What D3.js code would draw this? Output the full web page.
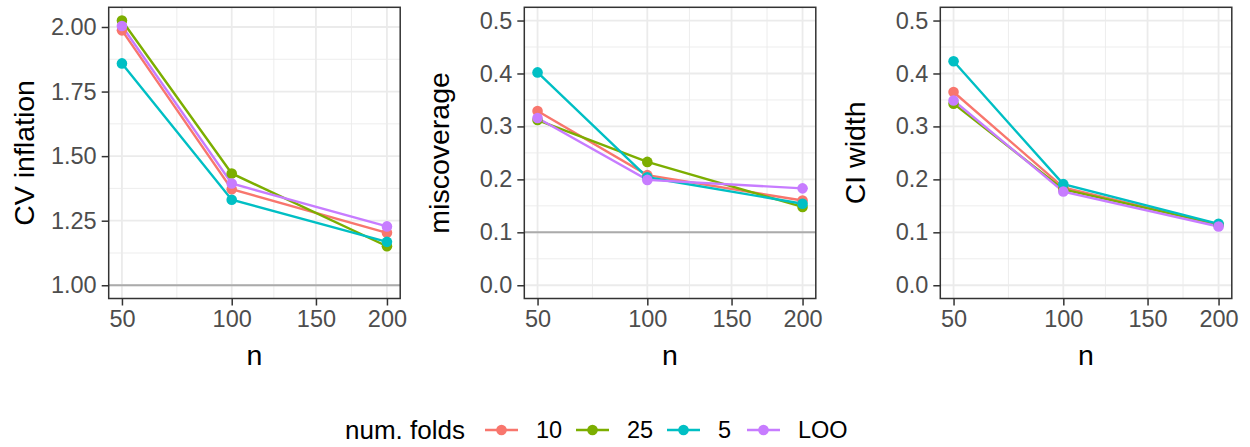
<!DOCTYPE html>
<html><head><meta charset="utf-8">
<script src="https://cdn.jsdelivr.net/npm/d3@7"></script>
<style>body{margin:0;background:#fff}svg{display:block;font-family:"Liberation Sans",Arial,sans-serif}</style>
</head><body><svg id="c" width="1250" height="447"></svg>
<script>
const nValues = [50, 100, 200];
const xTicks = [50, 100, 150, 200];
const folds = ["10", "25", "5", "LOO"];
const colors = ["#F8766D", "#7CAE00", "#00BFC4", "#C77CFF"];
const metrics = ["CV inflation", "miscoverage", "CI width"];
// values per fold, in order of nValues
const cvInflation = {"10": [1.987, 1.372, 1.203], "25": [2.025, 1.433, 1.151], "5": [1.859, 1.331, 1.168], "LOO": [2.004, 1.394, 1.228]};
const miscoverage = {"10": [0.329, 0.208, 0.160], "25": [0.312, 0.233, 0.148], "5": [0.402, 0.204, 0.154], "LOO": [0.316, 0.199, 0.183]};
const ciWidth = {"10": [0.365, 0.185, 0.114], "25": [0.343, 0.181, 0.115], "5": [0.423, 0.191, 0.116], "LOO": [0.349, 0.177, 0.111]};
const refLines = [1.0, 0.1, null];
const yTicks1 = [1.00, 1.25, 1.50, 1.75, 2.00];
const yTicks23 = [0.0, 0.1, 0.2, 0.3, 0.4, 0.5];

const svg = d3.select("#c");
const panelLeft = [108.7, 524.3, 940.3];
const pw = 291.5, pTop = 7.3, pBottom = 298.5;
const tickFont = 23.5, titleFont = 28.5, legendTitleFont = 26;
const datasets = [cvInflation, miscoverage, ciWidth];

metrics.forEach((m, i) => {
  const data = datasets[i];
  const x0 = panelLeft[i], x1 = x0 + pw;
  const sl = Math.sqrt(50), sh = Math.sqrt(200), sr = sh - sl;
  const x = d3.scaleSqrt().domain([Math.pow(sl - 0.05*sr, 2), Math.pow(sh + 0.05*sr, 2)]).range([x0, x1]);
  let ylo, yhi, yt, minor;
  if (i === 0) {
    const mx = d3.max(folds, f => d3.max(data[f]));
    const r = mx - 1;
    ylo = 1 - 0.05*r; yhi = mx + 0.05*r; yt = yTicks1;
    minor = [1.125, 1.375, 1.625, 1.875];
  } else {
    ylo = -0.025; yhi = 0.525; yt = yTicks23;
    minor = [0.05, 0.15, 0.25, 0.35, 0.45];
  }
  const y = d3.scaleLinear().domain([ylo, yhi]).range([pBottom, pTop]);
  const g = svg.append("g");
  const sx = xTicks.map(Math.sqrt);
  const xMinor = [];
  for (let k = 0; k < sx.length - 1; k++) xMinor.push(Math.pow((sx[k] + sx[k+1]) / 2, 2));
  g.selectAll(".ymin").data(minor).join("line").attr("x1", x0).attr("x2", x1).attr("y1", d => y(d)).attr("y2", d => y(d)).attr("stroke", "#EBEBEB").attr("stroke-width", 0.9);
  g.selectAll(".xmin").data(xMinor).join("line").attr("y1", pTop).attr("y2", pBottom).attr("x1", d => x(d)).attr("x2", d => x(d)).attr("stroke", "#EBEBEB").attr("stroke-width", 0.9);
  g.selectAll(".ymaj").data(yt).join("line").attr("x1", x0).attr("x2", x1).attr("y1", d => y(d)).attr("y2", d => y(d)).attr("stroke", "#EBEBEB").attr("stroke-width", 1.8);
  g.selectAll(".xmaj").data(xTicks).join("line").attr("y1", pTop).attr("y2", pBottom).attr("x1", d => x(d)).attr("x2", d => x(d)).attr("stroke", "#EBEBEB").attr("stroke-width", 1.8);
  if (refLines[i] !== null) {
    g.append("line").attr("x1", x0).attr("x2", x1).attr("y1", y(refLines[i])).attr("y2", y(refLines[i])).attr("stroke", "#ABABAB").attr("stroke-width", 2);
  }
  const line = d3.line().x((d, k) => x(nValues[k])).y(d => y(d));
  folds.forEach((f, j) => {
    g.append("path").datum(data[f]).attr("d", line).attr("fill", "none").attr("stroke", colors[j]).attr("stroke-width", 2.4);
  });
  folds.forEach((f, j) => {
    g.append("g").selectAll("circle").data(data[f]).join("circle").attr("cx", (d, k) => x(nValues[k])).attr("cy", d => y(d)).attr("r", 5.3).attr("fill", colors[j]);
  });
  g.append("rect").attr("x", x0).attr("y", pTop).attr("width", pw).attr("height", pBottom - pTop).attr("fill", "none").attr("stroke", "#333333").attr("stroke-width", 1.5);
  const fmt = i === 0 ? d3.format(".2f") : d3.format(".1f");
  const ya = g.append("g").attr("transform", `translate(${x0},0)`).call(d3.axisLeft(y).tickValues(yt).tickFormat(fmt).tickSize(7).tickPadding(5));
  const xa = g.append("g").attr("transform", `translate(0,${pBottom})`).call(d3.axisBottom(x).tickValues(xTicks).tickFormat(d3.format("d")).tickSize(7).tickPadding(5));
  [ya, xa].forEach(a => {
    a.select(".domain").remove();
    a.selectAll(".tick line").attr("stroke", "#333333").attr("stroke-width", 1.5);
    a.selectAll(".tick text").attr("fill", "#4D4D4D").style("font-size", tickFont + "px").style("font-family", '"Liberation Sans",Arial,sans-serif');
  });
  g.append("text").attr("x", (x0 + x1) / 2).attr("y", 365).attr("text-anchor", "middle").attr("font-size", titleFont).attr("fill", "#000").text("n");
  g.append("text").attr("transform", `translate(${x0 - 75},${(pTop + pBottom) / 2}) rotate(-90)`).attr("text-anchor", "middle").attr("font-size", titleFont).attr("fill", "#000").text(m);
});

const lg = svg.append("g");
lg.append("text").attr("x", 345).attr("y", 439).attr("font-size", legendTitleFont).attr("fill", "#000").text("num. folds");
const keyX = [485, 576, 667, 747];
folds.forEach((f, j) => {
  lg.append("line").attr("x1", keyX[j]).attr("x2", keyX[j] + 33).attr("y1", 430).attr("y2", 430).attr("stroke", colors[j]).attr("stroke-width", 2.4);
  lg.append("circle").attr("cx", keyX[j] + 16.5).attr("cy", 430).attr("r", 5.3).attr("fill", colors[j]);
  lg.append("text").attr("x", keyX[j] + 51).attr("y", 438).attr("font-size", tickFont).attr("fill", "#000").text(f);
});
</script></body></html>
